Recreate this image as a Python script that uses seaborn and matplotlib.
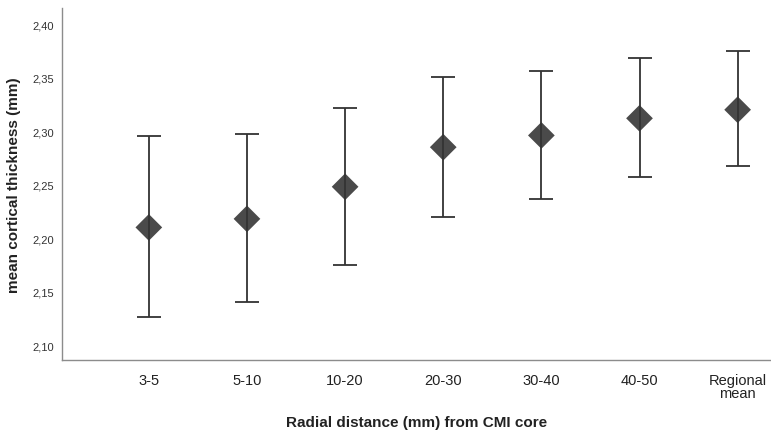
import numpy as np
import pandas as pd
import matplotlib; matplotlib.use("Agg")
import matplotlib.pyplot as plt
import seaborn as sns

categories = ["3-5", "5-10", "10-20", "20-30", "30-40", "40-50", "Regional\nmean"]
means = [2.210, 2.218, 2.248, 2.285, 2.296, 2.312, 2.320]
ci_low = [2.126, 2.140, 2.175, 2.220, 2.237, 2.257, 2.267]
ci_high = [2.295, 2.297, 2.322, 2.351, 2.356, 2.368, 2.375]
y_ticks = [2.10, 2.15, 2.20, 2.25, 2.30, 2.35, 2.40]

sns.set_theme(style="white")
plt.rcParams["font.family"] = ["Liberation Sans", "DejaVu Sans"]

df = pd.DataFrame({"cat": categories, "mean": means, "lo": ci_low, "hi": ci_high})

fig = plt.figure(figsize=(7.71, 4.35), dpi=100)
ax = fig.add_axes([0.0804, 0.170, 0.9196, 0.809])

x = np.arange(len(df))
ax.errorbar(x, df["mean"], yerr=[df["mean"] - df["lo"], df["hi"] - df["mean"]],
            fmt="none", ecolor="#333333", elinewidth=1.3, capsize=8.5,
            capthick=1.3, zorder=4)
sns.scatterplot(data=df, x="cat", y="mean", marker="D", s=185, color="#4a4a4a",
                edgecolor="none", ax=ax, zorder=3)

ax.set_xlim(-0.885, 6.34)
ax.set_ylim(2.086, 2.415)
ax.set_yticks(y_ticks)
ax.set_yticklabels([f"{v:.2f}".replace(".", ",") for v in y_ticks], fontsize=8,
                   color="#333333")
ax.set_xticks(x)
ax.set_xticklabels(categories, fontsize=10.5, color="#222222", linespacing=0.95)
ax.tick_params(axis="both", length=0, pad=6)
ax.tick_params(axis="x", pad=9)
ax.set_xlabel("Radial distance (mm) from CMI core", fontsize=11, fontweight="bold",
              labelpad=11, color="#222222")
ax.set_ylabel("mean cortical thickness (mm)", fontsize=11, fontweight="bold",
              labelpad=8, color="#222222")
sns.despine(ax=ax)
for s in ["left", "bottom"]:
    ax.spines[s].set_color("#8c8c8c")
    ax.spines[s].set_linewidth(1.0)

fig.savefig("out.png", dpi=100)
